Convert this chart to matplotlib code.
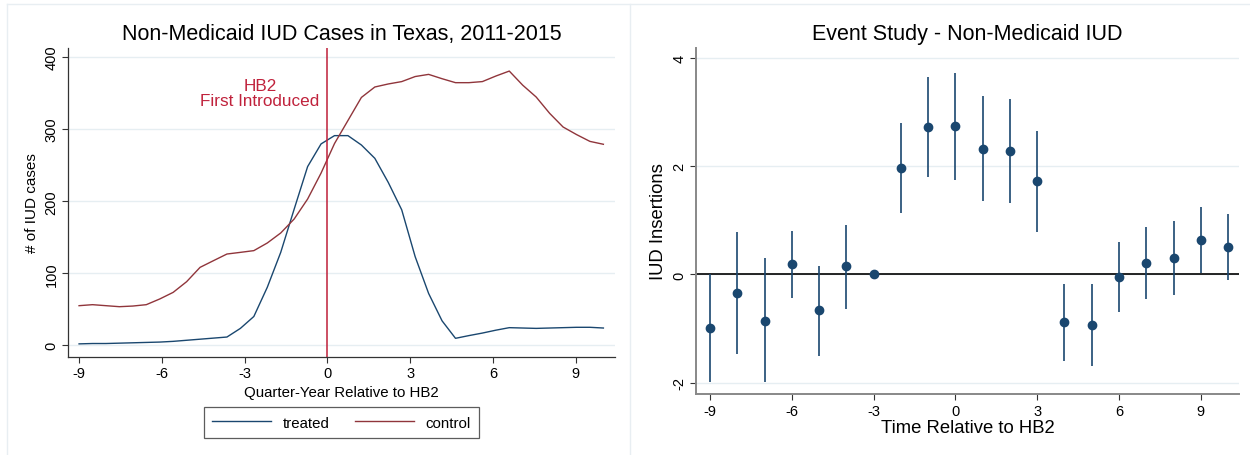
import numpy as np
import matplotlib.pyplot as plt
from matplotlib.lines import Line2D

plt.rcParams['font.family'] = ['Liberation Sans', 'DejaVu Sans']
plt.rcParams['axes.unicode_minus'] = False

# ---- left panel data: IUD cases, 40 periods from -9 to 10 quarter-years ----
quarter = np.linspace(-9, 10, 40)
treated = [2, 2.5, 2.5, 3, 3.5, 4, 4.5, 5.5, 7, 8.5,
           10, 11.5, 23.5, 40, 80.5, 129, 189, 248, 279.5, 291,
           291, 278, 259.5, 226, 188, 123, 72, 34, 9.7, 13.5,
           17, 21, 24.5, 24, 23.5, 24, 24.5, 25, 25, 24]
control = [55, 56.4, 55, 53.6, 54.5, 56.4, 64.3, 73.5, 88.3, 108.2,
           117.5, 126.7, 129, 131.4, 142, 155.9, 175.3, 203, 239, 280,
           312, 344, 358.5, 362.7, 366, 373, 376, 370, 364.5, 364.5,
           366, 373.7, 380.6, 361, 344.6, 322, 303, 292.5, 283, 279]

# ---- right panel data: event study coefficients and 95% CI ----
rel_time = list(range(-9, 11))
coef = [-0.98, -0.34, -0.85, 0.19, -0.66, 0.15, 0.0, 1.96, 2.72, 2.73,
        2.32, 2.27, 1.72, -0.88, -0.93, -0.05, 0.22, 0.30, 0.64, 0.50]
ci_hi = [0.0, 0.785, 0.31, 0.81, 0.16, 0.91, 0.0, 2.80, 3.65, 3.72,
         3.29, 3.23, 2.65, -0.18, -0.18, 0.59, 0.88, 0.98, 1.24, 1.11]
ci_lo = [-1.98, -1.47, -1.99, -0.43, -1.5, -0.63, 0.0, 1.13, 1.79, 1.74,
         1.35, 1.31, 0.785, -1.59, -1.68, -0.69, -0.45, -0.38, 0.03, -0.11]

navy = '#1a476f'
maroon = '#90353b'
red = '#c0223c'
grid_c = '#e6eef2'

W, H = 1250, 456
fig = plt.figure(figsize=(12.5, 4.56), dpi=100)

# light panel frames like stata's graph combine
fig.add_artist(Line2D([7 / W, 7 / W], [0, 1 - 5 / H], color='#e8eef2', lw=1))
fig.add_artist(Line2D([7 / W, 1], [1 - 5 / H, 1 - 5 / H], color='#e8eef2', lw=1))
fig.add_artist(Line2D([630 / W, 630 / W], [0, 1 - 5 / H], color='#e8eef2', lw=1))


def style_axes(ax, spine_c, spine_w):
    for s in ['top', 'right']:
        ax.spines[s].set_visible(False)
    for s in ['left', 'bottom']:
        ax.spines[s].set_color(spine_c)
        ax.spines[s].set_linewidth(spine_w)
    ax.tick_params(direction='out', length=4, width=0.8, colors='#333333',
                   labelcolor='black', labelsize=10.5, pad=3)
    ax.yaxis.grid(True, color=grid_c, lw=1)
    ax.set_axisbelow(True)
    for lab in ax.get_yticklabels():
        lab.set_rotation(90)
        lab.set_va('center')


# ---------------- left panel ----------------
ax1 = fig.add_axes([68.3 / W, 1 - 357.7 / H, (614.7 - 68.3) / W, (357.7 - 49.3) / H])
ax1.plot(quarter, treated, color=navy, lw=1.0, label='treated')
ax1.plot(quarter, control, color=maroon, lw=1.0, label='control')
ax1.axvline(0, color=red, lw=1.4, alpha=0.8)
ax1.text(-2.45, 350, 'HB2\nFirst Introduced', color=red, fontsize=12.3,
         ha='center', va='center', linespacing=1.05)
ax1.set_xlim(-9.39, 10.41)
ax1.set_ylim(-15.8, 412.2)
ax1.set_xticks([-9, -6, -3, 0, 3, 6, 9])
ax1.set_yticks([0, 100, 200, 300, 400])
style_axes(ax1, '#333333', 0.9)
ax1.set_title('Non-Medicaid IUD Cases in Texas, 2011-2015', fontsize=15.5, pad=7)
ax1.set_xlabel('Quarter-Year Relative to HB2', fontsize=10.8, labelpad=3)
ax1.set_ylabel('# of IUD cases', fontsize=11, labelpad=4)
leg = ax1.legend(loc='upper center', bbox_to_anchor=(0.5, -0.14), ncol=2,
                 fontsize=10.8, frameon=True, fancybox=False, handlelength=3.9,
                 columnspacing=1.7, borderpad=0.55, borderaxespad=0.5,
                 handletextpad=0.8)
leg.get_frame().set_edgecolor('#333333')
leg.get_frame().set_linewidth(0.9)

# ---------------- right panel ----------------
ax2 = fig.add_axes([696.4 / W, 1 - 394.8 / H, (1239 - 696.4) / W, (394.8 - 49.3) / H])
ax2.axhline(0, color='black', lw=1.2, zorder=1)
ax2.vlines(rel_time, ci_lo, ci_hi, color=navy, lw=1.2, zorder=2)
ax2.plot(rel_time, coef, 'o', color=navy, ms=6, zorder=3)
ax2.set_xlim(-9.5, 10.4)
ax2.set_ylim(-2.2, 4.17)
ax2.set_xticks([-9, -6, -3, 0, 3, 6, 9])
ax2.set_yticks([-2, 0, 2, 4])
style_axes(ax2, '#888888', 1.4)
ax2.set_title('Event Study - Non-Medicaid IUD', fontsize=15.5, pad=7)
ax2.set_xlabel('Time Relative to HB2', fontsize=13.3, labelpad=1)
ax2.set_ylabel('IUD Insertions', fontsize=13.3, labelpad=4)

fig.savefig('out.png', dpi=100)
